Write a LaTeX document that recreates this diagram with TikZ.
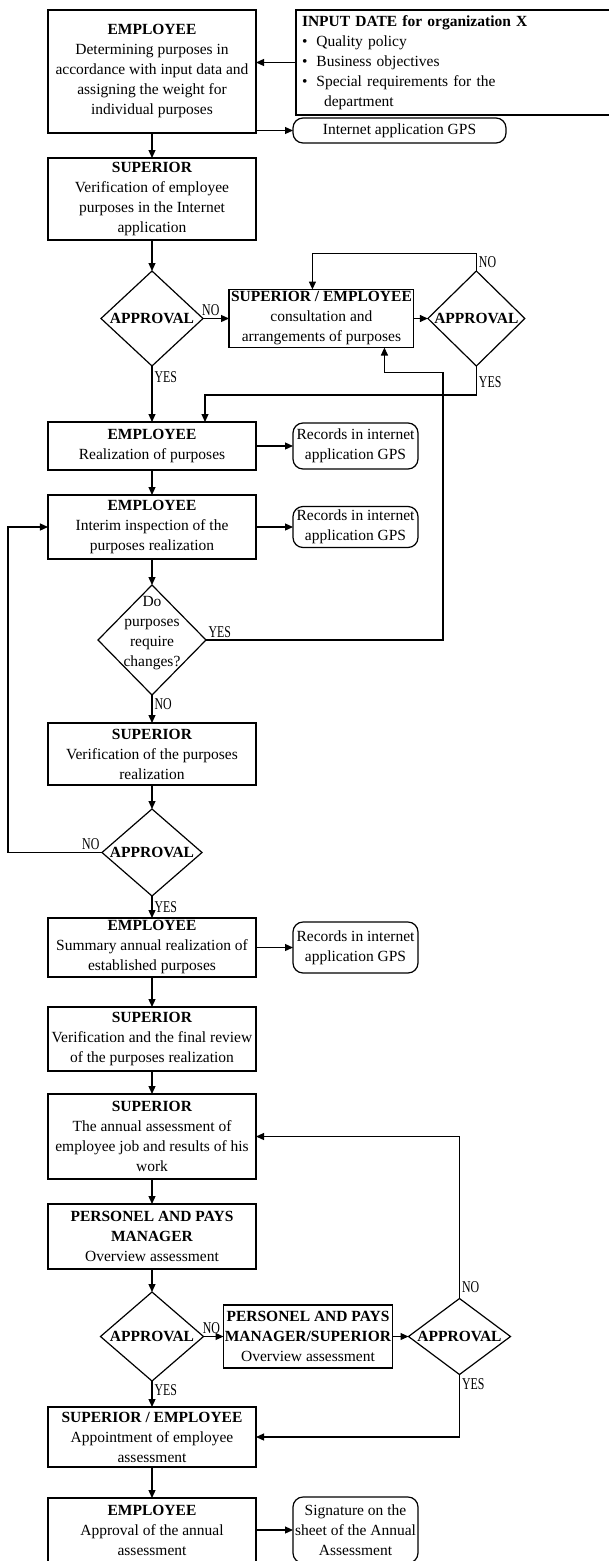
\documentclass[tikz,border=0pt]{standalone}
\usepackage{fontspec}
\setmainfont{Liberation Serif}
\newfontfamily\condfont[FakeStretch=0.72]{Liberation Serif}
\usetikzlibrary{shapes.geometric,
                arrows.meta,
                positioning}
\newcommand{\boxfont}{\fontsize{15.5pt}{20pt}\selectfont}
\tikzset{block/.style =
   {rectangle,
    draw,
    line width=1.2pt,
    outer sep=0pt,
    align=center,
    font=\boxfont,
    inner xsep=2pt,
    inner ysep=2pt,
    minimum width=208pt}}
\tikzset{record/.style =
   {rectangle,
    draw,
    line width=1.2pt,
    outer sep=0pt,
    rounded corners=10pt,
    align=center,
    font=\boxfont,
    inner sep=1pt,
    minimum width=125pt}}
\tikzset{inputbox/.style =
   {rectangle,
    draw,
    line width=1.2pt,
    outer sep=0pt,
    align=left,
    font=\boxfont,
    text width=304pt,
    inner xsep=6pt,
    inner ysep=3pt,
    minimum height=105pt}}
\tikzset{decision/.style =
   {diamond,
    draw,
    line width=1.2pt,
    outer sep=0pt,
    inner sep=0pt}}
\tikzset{approval/.style = {font=\boxfont\bfseries, inner sep=0pt}}
\tikzset{question/.style = {font=\boxfont, align=center, inner sep=0pt}}
\tikzset{answer/.style = {font=\condfont\fontsize{16.5pt}{16.5pt}\selectfont, inner sep=2pt}}
\tikzset{arrow/.style = {draw, line width=1.2pt, -{Triangle[length=8pt,width=7pt]}}}

\begin{document}
\begin{tikzpicture}

    \useasboundingbox (-152pt,71.5pt) rectangle (456pt,-1489.5pt);

    \node [block,
           minimum height=123pt] (emp1) at (0,0)
    {\textbf{EMPLOYEE}\\
     Determining purposes in\\
     accordance with input data and\\
     assigning the weight for\\
     individual purposes};

    \node [inputbox,
           right=40pt of emp1.north east,
           anchor=north west] (input)
    {\textbf{INPUT DATE for organization X}\\
     \textbullet\hspace{9pt}Quality policy\\
     \textbullet\hspace{9pt}Business objectives\\
     \textbullet\hspace{9pt}Special requirements for the\\
     \hspace{22pt}department};

    \node [record,
           right=37pt of emp1.south east,
           yshift=2.5pt,
           minimum width=213pt,
           minimum height=25pt] (gps)
    {Internet application GPS};

    \node [block,
           below=25pt of emp1,
           minimum height=82pt] (sup1)
    {\textbf{SUPERIOR}\\
     Verification of employee\\
     purposes in the Internet\\
     application};

    \node [decision,
           below=31pt of sup1,
           minimum width=102pt,
           minimum height=95pt,
           label={[approval]center:APPROVAL}] (appr1) {};

    \node [block,
           right=26pt of appr1,
           minimum width=180pt,
           minimum height=58pt] (consult)
    {\textbf{SUPERIOR / EMPLOYEE}\\
     consultation and\\
     arrangements of purposes};

    \node [decision,
           right=14pt of consult,
           minimum width=97pt,
           minimum height=95pt,
           label={[approval]center:APPROVAL}] (appr2) {};

    \node [block,
           below=56pt of appr1,
           minimum height=48pt] (emp2)
    {\textbf{EMPLOYEE}\\
     Realization of purposes};

    \node [record,
           right=37pt of emp2,
           minimum height=46pt] (rec1)
    {Records in internet\\
     application GPS};

    \node [block,
           below=25pt of emp2,
           minimum height=64pt] (emp3)
    {\textbf{EMPLOYEE}\\
     Interim inspection of the\\
     purposes realization};

    \node [record,
           right=37pt of emp3,
           minimum height=41pt] (rec2)
    {Records in internet\\
     application GPS};

    \node [decision,
           below=26pt of emp3,
           minimum width=108pt,
           minimum height=110pt,
           label={[question, yshift=7pt]center:{Do\\purposes\\require\\changes?}}] (change) {};

    \node [block,
           below=28pt of change,
           minimum height=62pt] (sup2)
    {\textbf{SUPERIOR}\\
     Verification of the purposes\\
     realization};

    \node [decision,
           below=24pt of sup2,
           minimum width=100pt,
           minimum height=87pt,
           label={[approval]center:APPROVAL}] (appr3) {};

    \node [block,
           below=22pt of appr3,
           minimum height=59pt] (emp4)
    {\textbf{EMPLOYEE}\\
     Summary annual realization of\\
     established purposes};

    \node [record,
           right=37pt of emp4,
           minimum height=51pt] (rec3)
    {Records in internet\\
     application GPS};

    \node [block,
           below=30pt of emp4,
           minimum height=64pt] (sup3)
    {\textbf{SUPERIOR}\\
     Verification and the final review\\
     of the purposes realization};

    \node [block,
           below=23pt of sup3,
           minimum height=85pt] (sup4)
    {\textbf{SUPERIOR}\\
     The annual assessment of\\
     employee job and results of his\\
     work};

    \node [block,
           below=25pt of sup4,
           minimum height=65pt] (pm1)
    {\textbf{PERSONEL AND PAYS}\\
     \textbf{MANAGER}\\
     Overview assessment};

    \node [decision,
           below=23pt of pm1,
           minimum width=103pt,
           minimum height=89pt,
           label={[approval]center:APPROVAL}] (appr4) {};

    \node [block,
           right=20pt of appr4,
           minimum width=169pt,
           minimum height=63pt,
           inner xsep=1pt] (pm2)
    {\textbf{PERSONEL AND PAYS}\\
     \textbf{MANAGER/SUPERIOR}\\
     Overview assessment};

    \node [decision,
           right=16pt of pm2,
           minimum width=102pt,
           minimum height=76pt,
           label={[approval]center:APPROVAL}] (appr5) {};

    \node [block,
           below=26pt of appr4,
           minimum height=60pt] (supemp)
    {\textbf{SUPERIOR / EMPLOYEE}\\
     Appointment of employee\\
     assessment};

    \node [block,
           below=31pt of supemp,
           minimum height=64pt] (emp5)
    {\textbf{EMPLOYEE}\\
     Approval of the annual\\
     assessment};

    \node [record,
           right=37pt of emp5,
           minimum height=66pt] (sig)
    {Signature on the\\
     sheet of the Annual\\
     Assessment};

    \draw [arrow] (input.west) -- (input.west -| emp1.east);
    \draw [arrow] (gps.west -| emp1.east) -- (gps.west);
    \draw [arrow] (emp1) -- (sup1);
    \draw [arrow] (sup1) -- (appr1);
    \draw [arrow] (appr1) -- node [answer, above, pos=0.3] {NO} (consult);
    \draw [arrow] (consult) -- (appr2);
    \draw [arrow] (appr2.north) |- node [answer, right, pos=0.25] {NO}
        ([xshift=-9pt, yshift=36pt]consult.north) -- ([xshift=-9pt]consult.north);
    \draw [arrow] (appr2.south) |- node [answer, right, pos=0.28] {YES}
        ([xshift=53pt, yshift=27pt]emp2.north) -- ([xshift=53pt]emp2.north);
    \draw [arrow] (appr1) -- node [answer, right, pos=0.2] {YES} (emp2);
    \draw [arrow] (emp2) -- (rec1);
    \draw [arrow] (emp2) -- (emp3);
    \draw [arrow] (emp3) -- (rec2);
    \draw [arrow] (emp3) -- (change);
    \draw [arrow] (change.east) node [answer, above right] {YES} -- ++(237pt,0)
        |- ([xshift=63pt, yshift=-25pt]consult.south) -- ([xshift=63pt]consult.south);
    \draw [arrow] (change) -- node [answer, right, pos=0.32] {NO} (sup2);
    \draw [arrow] (sup2) -- (appr3);
    \draw [arrow] (appr3.west) node [answer, above left] {NO} -- ++(-94pt,0) |- (emp3.west);
    \draw [arrow] (appr3) -- node [answer, right, pos=0.5] {YES} (emp4);
    \draw [arrow] (emp4) -- (rec3);
    \draw [arrow] (emp4) -- (sup3);
    \draw [arrow] (sup3) -- (sup4);
    \draw [arrow] (sup4) -- (pm1);
    \draw [arrow] (pm1) -- (appr4);
    \draw [arrow] (appr4) -- node [answer, above, pos=0.4] {NO} (pm2);
    \draw [arrow] (pm2) -- (appr5);
    \draw [arrow] (appr5.north) |- node [answer, right, pos=0.035] {NO} (sup4.east);
    \draw [arrow] (appr5.south) |- node [answer, right, pos=0.08] {YES} (supemp.east);
    \draw [arrow] (appr4) -- node [answer, right, pos=0.35] {YES} (supemp);
    \draw [arrow] (supemp) -- (emp5);
    \draw [arrow] (emp5) -- (sig);

\end{tikzpicture}
\end{document}
